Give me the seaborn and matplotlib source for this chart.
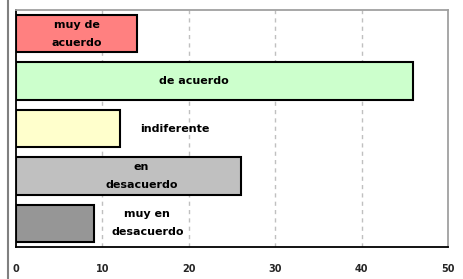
import matplotlib
matplotlib.use("Agg")
import matplotlib.pyplot as plt
import seaborn as sns
import pandas as pd
from matplotlib.lines import Line2D

categorias = ["muy de\nacuerdo", "de acuerdo", "indiferente", "en\ndesacuerdo", "muy en\ndesacuerdo"]
valores = [14, 46, 12, 26, 9]
colores = ["#FF8080", "#CCFFCC", "#FFFFCC", "#C0C0C0", "#969696"]
ticks_x = [0, 10, 20, 30, 40, 50]

df = pd.DataFrame({"categoria": categorias, "valor": valores})

sns.set_style("white")
plt.rcParams["font.family"] = ["DejaVu Sans"]

fig = plt.figure(figsize=(4.64, 2.79), dpi=100)
ax = fig.add_axes([16 / 464, 32 / 279, 432 / 464, 237 / 279])

sns.barplot(data=df, x="valor", y="categoria", hue="categoria", palette=colores,
            orient="h", width=0.79, edgecolor="black", linewidth=1.5,
            saturation=1, legend=False, ax=ax)

ax.set_xlim(0, 50)
ax.set_xticks(ticks_x)
ax.set_xticklabels([str(t) for t in ticks_x], fontsize=7, fontweight="bold")
ax.set_yticks([])
ax.set_xlabel("")
ax.set_ylabel("")
ax.tick_params(axis="x", direction="inout", length=6, width=1.2, pad=9, color="black")

for x in ticks_x[1:-1]:
    ax.axvline(x, color="#C0C0C0", linestyle=(0, (3, 3)), linewidth=1, zorder=0)

ax.spines["top"].set_color("#A0A0A0")
ax.spines["right"].set_color("#A0A0A0")
ax.spines["bottom"].set_color("black")
ax.spines["left"].set_color("black")
for s in ax.spines.values():
    s.set_linewidth(1.3)

# posiciones de las etiquetas (como en la hoja original)
pos_etiqueta = [7, 20.6, 18.4, 14.5, 15.2]
for i, (cat, px) in enumerate(zip(categorias, pos_etiqueta)):
    ax.text(px, i, cat, ha="center", va="center", fontsize=8, fontweight="bold",
            linespacing=2.0, color="black")

fig.add_artist(Line2D([8 / 464, 8 / 464], [0, 1], color="#808080", linewidth=1.5))

fig.savefig("out.png", dpi=100)
